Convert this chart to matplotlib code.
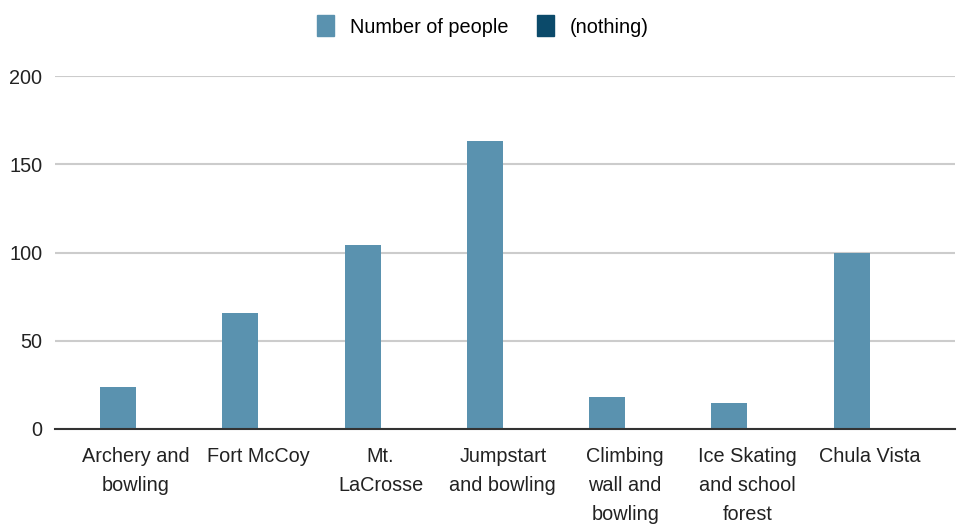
import numpy as np
import matplotlib
matplotlib.use("Agg")
import matplotlib.pyplot as plt
from matplotlib.patches import Patch

categories = ["Archery and\nbowling", "Fort McCoy", "Mt.\nLaCrosse", "Jumpstart\nand bowling",
              "Climbing\nwall and\nbowling", "Ice Skating\nand school\nforest", "Chula Vista"]
people = [24, 66, 104, 163, 18, 15, 100]
nothing = [0, 0, 0, 0, 0, 0, 0]
y_ticks = [0, 50, 100, 150, 200]

C_PEOPLE = "#5A92AF"
C_NOTHING = "#0B4A6A"
FS = 14.3

plt.rcParams["font.family"] = ["Liberation Sans", "DejaVu Sans"]

fig = plt.figure(figsize=(9.57, 5.27), dpi=100)
ax = fig.add_axes([55 / 957, 98 / 527, 900 / 957, 353 / 527])

x = np.arange(len(categories))
w = 36 / 122.3
ax.bar(x - w / 2, people, width=w, color=C_PEOPLE, zorder=3)
ax.bar(x + w / 2, nothing, width=w, color=C_NOTHING, zorder=3)

ax.set_xlim(-0.662, 6.697)
ax.set_ylim(0, 200)
ax.set_yticks(y_ticks)
ax.set_xticks(x)
ax.set_xticklabels(categories, fontsize=FS, linespacing=1.65, color="#222222")
ax.tick_params(axis="y", length=0, pad=9, labelsize=FS, labelcolor="#222222")
ax.tick_params(axis="x", length=0, pad=13)
ax.grid(True, axis="y", color="#CCCCCC", linewidth=1.5, zorder=0)
ax.set_axisbelow(True)
for s in ["top", "right", "left"]:
    ax.spines[s].set_visible(False)
ax.spines["bottom"].set_color("#333333")
ax.spines["bottom"].set_linewidth(1.5)
ax.spines["bottom"].set_zorder(4)

handles = [Patch(color=C_PEOPLE, label="Number of people"),
           Patch(color=C_NOTHING, label="(nothing)")]
fig.legend(handles=handles, loc="center", bbox_to_anchor=(483 / 957, 1 - 26 / 527),
           ncol=2, frameon=False, fontsize=FS, handlelength=0.88, handleheight=1.24,
           handletextpad=0.8, columnspacing=1.4)

fig.savefig("out.png", dpi=100)
